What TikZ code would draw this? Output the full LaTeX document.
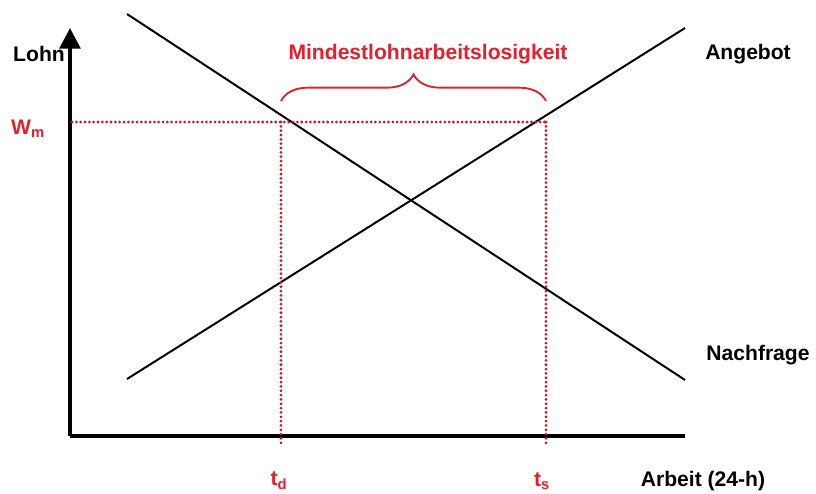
\documentclass[tikz,border=0pt]{standalone}
\usepackage{fontspec}
\setmainfont{Liberation Sans}
\usepackage{tikz}
\usetikzlibrary{arrows.meta,decorations.pathreplacing}
\definecolor{mindc}{HTML}{E3202B}
\tikzset{
  achse/.style={line width=3.4pt,black},
  kurve/.style={line width=1.7pt,black},
  hilf/.style={mindc!85!black,line width=2.6pt,line cap=round,dash pattern=on 0pt off 3.7pt},
  lbl/.style={font=\bfseries\fontsize{18}{21}\selectfont,inner sep=0pt}
}
\begin{document}
\begin{tikzpicture}[x=0.03cm,y=-0.03cm]
\useasboundingbox (0,0) rectangle (816,493);
% Achsen
\coordinate (O) at (70,436);
\coordinate (Ytop) at (70,28);
\coordinate (Xend) at (685,436);
\draw[achse,-{Triangle[length=0.62cm,width=0.62cm]}] (O) -- (Ytop);
\draw[achse] (O) -- (Xend);
% Angebot und Nachfrage
\coordinate (N1) at (127,14);
\coordinate (N2) at (685,380);
\coordinate (A1) at (127,379);
\coordinate (A2) at (685,28);
\draw[kurve] (N1) -- (N2);
\draw[kurve] (A1) -- (A2);
% Mindestlohn
\coordinate (Wy) at (72,122);
\coordinate (D) at (281,122);
\coordinate (S) at (546,122);
\coordinate (Dd) at (281,443);
\coordinate (Sd) at (546,443);
\draw[hilf] (Wy) -- (S);
\draw[hilf] (D) -- (Dd);
\draw[hilf] (S) -- (Sd);
\draw[mindc,line width=1.6pt,decorate,decoration={brace,amplitude=0.8cm}]
  (281,101) -- (546,101);
% Beschriftung
\node[lbl,anchor=west] (lohn) at (13,54) {Lohn};
\node[lbl,anchor=west,mindc] (wm) at (11,129) {W\textsubscript{m}};
\node[lbl,mindc] (mla) at (428,54) {Mindestlohnarbeitslosigkeit};
\node[lbl] (ang) at (748,54) {Angebot};
\node[lbl] (nach) at (758,355) {Nachfrage};
\node[lbl,mindc] (td) at (279,481) {t\textsubscript{d}};
\node[lbl,mindc] (ts) at (542,481) {t\textsubscript{s}};
\node[lbl] (arb) at (703,481) {Arbeit (24-h)};
\end{tikzpicture}
\end{document}
